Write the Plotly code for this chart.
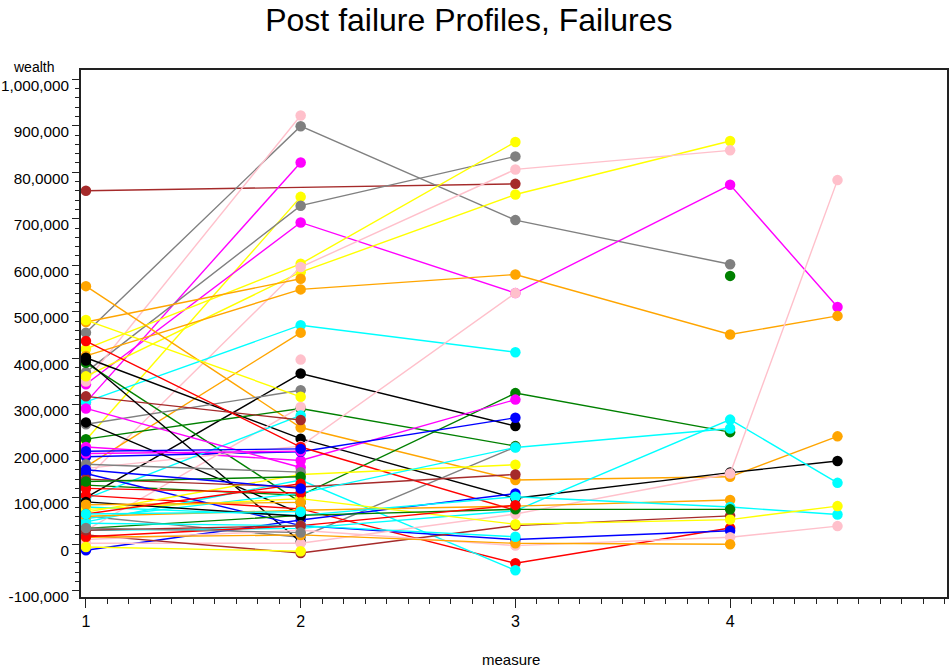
import plotly.graph_objects as go

# x position of each measurement occasion
measures = [1, 2, 3, 4, 4.5]

# one entry per subject: line/marker colour and wealth at each occasion (None = not observed)
colors = [
    "brown", "gray", "magenta", "yellow", "gray", "magenta", "pink", "yellow", "yellow", "pink",
    "orange", "orange", "orange", "cyan", "orange", "pink", "black", "black", "green", "green",
    "green", "magenta", "blue", "gray", "gray", "yellow", "pink", "pink", "cyan", "brown",
    "magenta", "black", "black", "red", "red", "cyan", "blue", "blue", "yellow", "brown",
    "cyan", "cyan", "pink", "orange", "cyan", "brown", "yellow", "pink", "orange", "green",
    "green", "gray", "red", "black", "red", "magenta", "blue", "green", "cyan", "orange",
    "yellow", "brown", "red", "gray", "cyan", "blue",
]
wealth_1 = [
    760000, 455000, 305000, 224000, 370000, 344000, 350000, 420000, 361000, 141000,
    555000, 478000, 405000, 306000, 167000, None, 100000, 401000, 390000, 226000,
    127000, 209000, 188000, 60000, 258000, 482000, 30000, 163000, 98000, 318000,
    292000, 395000, 262000, 437000, 105000, 48000, -13000, 152000, 69000, 140000,
    55000, 30000, 2000, 60000, 80000, 20000, 75000, 10000, 15000, 34000,
    None, 172000, 16000, 91000, 120000, 195000, 200000, 135000, 45000, 85000,
    -6000, 30000, 65000, 35000, 65000, 160000,
]
wealth_2 = [
    None, 899000, 821000, 747000, 728000, 692000, 922000, 603000, 585000, 596000,
    251000, 571000, 548000, 471000, 455000, 397000, 367000, 227000, 90000, 292000,
    105000, 180000, 199000, 15000, 331000, 317000, 295000, 211000, 277000, 267000,
    165000, 5000, 66000, 209000, 76000, 138000, 52000, 40000, 150000, 123000,
    110000, 34000, 2000, 73000, 62000, -19000, 98000, 30000, 20000, 62000,
    None, 155000, 40000, 60000, 110000, 200000, 205000, 145000, 40000, 90000,
    -15000, 40000, 130000, 25000, 70000, 120000,
]
wealth_3 = [
    775000, 697000, None, None, 834000, 540000, None, 865000, 752000, 806000,
    138000, None, 580000, 413000, None, None, 254000, 99000, None, 211000,
    325000, 311000, 272000, 209000, None, None, None, 540000, None, None,
    None, None, None, 73000, -41000, -56000, 109000, 10000, 171000, 150000,
    208000, 72000, 65000, 82000, 102000, 40000, 43000, -3000, 2000, 75000,
    None, None, 84000, None, None, None, None, None, 16000, None,
    None, None, None, None, None, None,
]
wealth_4 = [
    None, 602000, None, None, None, 773000, None, None, 867000, 847000,
    145000, None, 451000, None, None, None, None, 154000, None, None,
    241000, None, None, None, None, None, None, None, None, None,
    None, None, None, None, 35000, None, None, 29000, None, None,
    249000, 268000, 152000, 95000, 80000, 61000, 53000, 15000, 0, 75000,
    577000, None, None, None, None, None, None, None, None, None,
    None, None, None, None, None, None,
]
wealth_45 = [
    None, None, None, None, None, 510000, None, None, None, None,
    232000, None, 491000, None, None, None, None, 179000, None, None,
    None, None, None, None, None, None, None, None, None, None,
    None, None, None, None, None, None, None, None, None, None,
    None, 132000, 783000, None, 64000, None, 82000, 39000, None, None,
    None, None, None, None, None, None, None, None, None, None,
    None, None, None, None, None, None,
]

# y-axis tick labels as printed on the chart
y_tick_values = [-100000, 0, 100000, 200000, 300000, 400000, 500000,
                 600000, 700000, 800000, 900000, 1000000]
y_tick_labels = ["-100,000", "0", "100,000", "200,000", "300,000", "400,000", "500,000",
                 "600,000", "700,000", "80,0000", "900,000", "1,000,000"]
x_tick_values = [1, 2, 3, 4]
x_tick_labels = ["1", "2", "3", "4"]

palette = {
    "red": "#FF0000", "green": "#008000", "blue": "#0000FF", "cyan": "#00FFFF",
    "magenta": "#FF00FF", "yellow": "#FFFF00", "gray": "#808080", "pink": "#FFC0CB",
    "orange": "#FFA500", "brown": "#A52A2A", "black": "#000000",
}

fig = go.Figure()
for i, name in enumerate(colors):
    c = palette[name]
    ys = [wealth_1[i], wealth_2[i], wealth_3[i], wealth_4[i], wealth_45[i]]
    fig.add_trace(go.Scatter(
        x=measures, y=ys, mode="lines+markers", connectgaps=True,
        line=dict(color=c, width=1.4),
        marker=dict(color=c, size=10.5, line=dict(width=0)),
        showlegend=False, hoverinfo="skip",
    ))

FONT = "Liberation Sans, Arial, sans-serif"
x_font = dict(family=FONT, size=16, color="#000")
y_font = dict(family=FONT, size=15.3, color="#000")

fig.update_layout(
    width=951, height=670,
    margin=dict(l=81, r=4, t=70, b=73),
    paper_bgcolor="white", plot_bgcolor="white",
    title=dict(
        text="Post failure Profiles, Failures",
        font=dict(family=FONT, size=32, color="#000"),
        x=0.493, xanchor="center", y=1 - 20 / 670, yanchor="middle", yref="container",
    ),
    xaxis=dict(
        range=[0.977, 5.01], tickmode="array", tickvals=x_tick_values, ticktext=x_tick_labels,
        ticks="outside", ticklen=9, tickwidth=1.3, tickcolor="#222",
        minor=dict(dtick=0.1, tick0=1, ticks="outside", ticklen=5, tickwidth=1.2, tickcolor="#222"),
        showline=True, linecolor="#222", linewidth=2, mirror=True,
        showgrid=False, zeroline=False, tickfont=x_font, automargin=False,
    ),
    yaxis=dict(
        range=[-113500, 1019800], tickmode="array", tickvals=y_tick_values, ticktext=y_tick_labels,
        ticks="outside", ticklen=7, tickwidth=1.3, tickcolor="#222",
        minor=dict(dtick=20000, tick0=0, ticks="outside", ticklen=4, tickwidth=1.2, tickcolor="#222"),
        showline=True, linecolor="#222", linewidth=2, mirror=True,
        showgrid=False, zeroline=False, tickfont=y_font,
        ticklabelshift=6, ticklabelstandoff=0, automargin=False,
    ),
    annotations=[
        dict(text="wealth", xref="paper", yref="paper", x=-0.0545, y=1.006,
             xanchor="center", yanchor="middle", showarrow=False,
             font=dict(family=FONT, size=14, color="#000")),
        dict(text="measure", xref="paper", yref="paper", x=0.4965, y=-0.1195,
             xanchor="center", yanchor="middle", showarrow=False,
             font=dict(family=FONT, size=15, color="#000")),
    ],
)

fig.write_html("out.html")
